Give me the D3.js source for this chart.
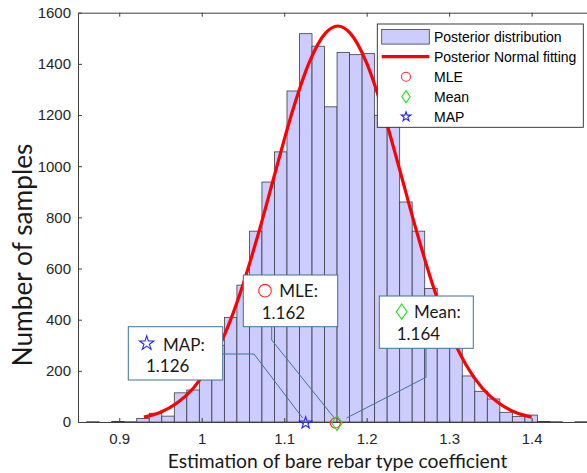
<!DOCTYPE html>
<html lang="en">
<head>
<meta charset="utf-8">
<title>Posterior distribution</title>
<style>
  body { margin: 0; background: #fff; }
  svg { display: block; font-family: "Liberation Sans", Arial, sans-serif; }
  .callout text { font-family: Lato, "Open Sans", sans-serif; font-size: 17px; fill: #1a1a1a; }
  .axis text { fill: #262626; font-size: 15px; }
  .axis path, .axis line { stroke: #404040; }
</style>
</head>
<body>
<div id="graph-div"></div>
<script src="https://cdn.jsdelivr.net/npm/d3@7"></script>
<script>
// histogram of posterior samples (bins of constant width)
var binStart = 0.8605, binWidth = 0.01518;
var counts = [1, 0, 2, 1, 14, 34, 23, 114, 125, 200, 300, 409, 535, 746, 938, 1056,
              1294, 1518, 1469, 1232, 1445, 1436, 1440, 1199, 1170, 860, 746, 522,
              400, 300, 180, 120, 90, 38, 21, 27, 2, 1, 0, 1];

// normal fit
var fitX = [0.93, 0.95, 0.97, 0.99, 1.01, 1.03, 1.05, 1.07, 1.09, 1.11, 1.13, 1.15, 1.165,
            1.18, 1.20, 1.22, 1.24, 1.26, 1.28, 1.30, 1.32, 1.34, 1.36, 1.38, 1.40];
var fitY = [19, 38, 74, 133, 226, 359, 537, 751, 986, 1215, 1403, 1520, 1548,
            1520, 1403, 1215, 986, 751, 537, 359, 226, 133, 74, 38, 19];

// point estimates
var estNames = ["MLE", "Mean", "MAP"];
var estValues = [1.162, 1.164, 1.126];

var xTicks = [0.9, 1, 1.1, 1.2, 1.3, 1.4];
var yTicks = [0, 200, 400, 600, 800, 1000, 1200, 1400, 1600];

var W = 587, H = 473;
var plotLeft = 78, plotTop = 12.7, plotBottom = 422;

var svg = d3.select("#graph-div").append("svg")
    .attr("width", W).attr("height", H);

var x = d3.scaleLinear().domain([0.85, 1.47]).range([plotLeft, plotLeft + 0.62 * 824.8]);
var y = d3.scaleLinear().domain([0, 1600]).range([plotBottom, plotTop]);

var markerStyle = {
  MLE:  {color: "#ff2a2a"},
  Mean: {color: "#1fe01f"},
  MAP:  {color: "#2323ff"}
};

function starPath(R) {
  var r = R * 0.382, pts = [];
  for (var i = 0; i < 10; i++) {
    var a = -Math.PI / 2 + i * Math.PI / 5, rr = i % 2 ? r : R;
    pts.push([rr * Math.cos(a), rr * Math.sin(a)]);
  }
  return "M" + pts.map(function(p) { return p[0].toFixed(2) + "," + p[1].toFixed(2); }).join("L") + "Z";
}

function drawMarker(g, name, cx, cy, s) {
  var c = markerStyle[name].color;
  if (name === "MLE") {
    g.append("circle").attr("cx", cx).attr("cy", cy).attr("r", s)
      .attr("fill", "none").attr("stroke", c).attr("stroke-width", 1.1);
  } else if (name === "Mean") {
    g.append("path")
      .attr("d", "M" + cx + "," + (cy - s * 1.45) + "L" + (cx + s) + "," + cy +
                 "L" + cx + "," + (cy + s * 1.45) + "L" + (cx - s) + "," + cy + "Z")
      .attr("fill", "none").attr("stroke", c).attr("stroke-width", 1.1);
  } else {
    g.append("path").attr("d", starPath(s * 1.2)).attr("transform", "translate(" + cx + "," + cy + ")")
      .attr("fill", "none").attr("stroke", c).attr("stroke-width", 1.1).attr("stroke-linejoin", "miter");
  }
}

// bars
svg.append("g").selectAll("rect")
  .data(counts)
  .enter().append("rect")
    .attr("x", function(d, i) { return x(binStart + i * binWidth); })
    .attr("width", function(d, i) { return x(binStart + (i + 1) * binWidth) - x(binStart + i * binWidth); })
    .attr("y", function(d) { return y(d); })
    .attr("height", function(d) { return plotBottom - y(d); })
    .attr("fill", "#ccccff")
    .attr("stroke", "#3c3c46")
    .attr("stroke-width", 0.8);

// axes
svg.append("g").attr("class", "axis")
    .attr("transform", "translate(0," + plotBottom + ")")
    .call(d3.axisBottom(x).tickValues(xTicks).tickFormat(d3.format("~g"))
      .tickSizeInner(-4).tickSizeOuter(0).tickPadding(11.5));
svg.append("g").attr("class", "axis")
    .attr("transform", "translate(0," + plotTop + ")")
    .call(d3.axisTop(x).tickValues(xTicks).tickFormat("")
      .tickSizeInner(-4).tickSizeOuter(0));
svg.append("g").attr("class", "axis")
    .attr("transform", "translate(" + plotLeft + ",0)")
    .call(d3.axisLeft(y).tickValues(yTicks).tickFormat(d3.format("d"))
      .tickSizeInner(-4).tickSizeOuter(0).tickPadding(7));
svg.selectAll(".axis").attr("font-size", null).attr("font-family", null);

// fitted curve
svg.append("path")
  .datum(fitX.map(function(d, i) { return [d, fitY[i]]; }))
  .attr("fill", "none")
  .attr("stroke", "#ff0000")
  .attr("stroke-width", 3.2)
  .attr("d", d3.line().x(function(d) { return x(d[0]); }).y(function(d) { return y(d[1]); })
    .curve(d3.curveMonotoneX));

// estimates on the axis
var est = svg.append("g");
estNames.forEach(function(n, i) {
  drawMarker(est, n, x(estValues[i]), y(0) + 1, n === "MLE" ? 5 : 5.2);
});

// callouts (PowerPoint style boxes)
var callouts = [
  {name: "MAP",  box: [128.3, 326.7, 94.4, 53.3], icon: [146.7, 343.3], label: [163, 350.5], val: [146, 371.7],
   elbow: [[222.7, 354], [254, 354]], end: [-3, -4]},
  {name: "MLE",  box: [243.3, 275, 94.4, 51.7], icon: [265, 290.7], label: [279.3, 296.7], val: [261.7, 319.3],
   elbow: [[271.7, 326.7], [271.7, 340]], end: [-1, -4]},
  {name: "Mean", box: [379.3, 296, 94, 52.3], icon: [401.7, 311.7], label: [414, 318.3], val: [396.7, 340],
   elbow: [[426, 348.3], [426, 377.3]], end: [9.5, -4]}
];

var cg = svg.append("g").attr("class", "callout");
callouts.forEach(function(c) {
  var i = estNames.indexOf(c.name);
  var pts = c.elbow.concat([[x(estValues[i]) + c.end[0], y(0) + c.end[1]]]);
  cg.append("path").attr("d", d3.line()(pts))
    .attr("fill", "none").attr("stroke", "#41719c").attr("stroke-width", 1);
});
callouts.forEach(function(c) {
  var i = estNames.indexOf(c.name);
  cg.append("rect").attr("x", c.box[0]).attr("y", c.box[1])
    .attr("width", c.box[2]).attr("height", c.box[3])
    .attr("fill", "#fff").attr("stroke", "#41719c").attr("stroke-width", 1);
  drawMarker(cg, c.name, c.icon[0], c.icon[1], c.name === "Mean" ? 5.3 : (c.name === "MAP" ? 6.2 : 6.3));
  cg.append("text").attr("x", c.label[0]).attr("y", c.label[1]).text(c.name + ":");
  cg.append("text").attr("x", c.val[0]).attr("y", c.val[1]).text(d3.format(".3f")(estValues[i]));
});

// legend
var lg = svg.append("g");
lg.append("rect").attr("x", 377.3).attr("y", 24).attr("width", 206).attr("height", 103.3)
  .attr("fill", "#fff").attr("stroke", "#262626").attr("stroke-width", 0.9);
var legendItems = ["Posterior distribution", "Posterior Normal fitting"].concat(estNames);
legendItems.forEach(function(t, k) {
  var cy = 36.7 + k * 20;
  if (k === 0) {
    lg.append("rect").attr("x", 381.7).attr("y", cy - 7.3).attr("width", 47.6).attr("height", 14.7)
      .attr("fill", "#ccccff").attr("stroke", "#3c3c46").attr("stroke-width", 0.8);
  } else if (k === 1) {
    lg.append("line").attr("x1", 381.7).attr("x2", 429.3).attr("y1", cy).attr("y2", cy)
      .attr("stroke", "#ff0000").attr("stroke-width", 3.2);
  } else {
    drawMarker(lg, t, 406, cy, t === "MLE" ? 4.5 : 4.2);
  }
  lg.append("text").attr("x", 434).attr("y", cy).attr("dy", "0.35em")
    .attr("font-size", 14).attr("fill", "#000").text(t);
});

// axis titles, fitted to the measured widths
function fitText(sel, target) {
  var w = sel.node().getComputedTextLength();
  var fs = parseFloat(sel.attr("font-size"));
  sel.attr("font-size", (fs * target / w).toFixed(2));
}
var xl = svg.append("text").attr("x", 337.5).attr("y", 468).attr("text-anchor", "middle")
  .attr("font-family", "Lato, 'Open Sans', sans-serif").attr("font-size", 17).attr("fill", "#1a1a1a")
  .text("Estimation of bare rebar type coefficient");
fitText(xl, 340);
var yl = svg.append("text").attr("transform", "translate(32,255) rotate(-90)").attr("text-anchor", "middle")
  .attr("font-family", "Lato, 'Open Sans', sans-serif").attr("font-size", 17).attr("fill", "#1a1a1a")
  .text("Number of samples");
fitText(yl, 223);
</script>
</body>
</html>
